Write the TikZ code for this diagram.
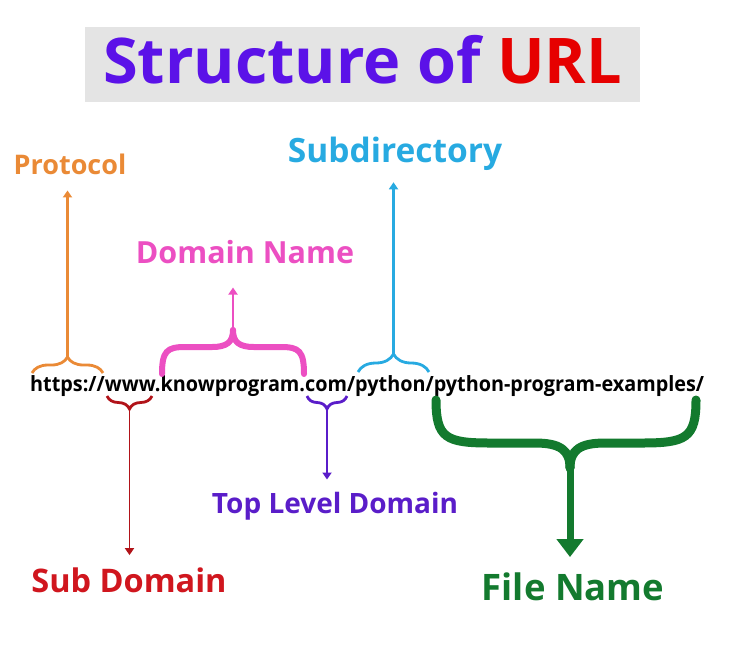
\documentclass[tikz,border=0pt]{standalone}
\usepackage{fontspec}
\setmainfont{Open Sans}
\usepackage{xcolor}
\usetikzlibrary{arrows.meta, decorations.pathreplacing, positioning}
\definecolor{titlepurple}{HTML}{5B12E8}
\definecolor{titlered}{HTML}{E60000}
\definecolor{titlegray}{HTML}{E4E4E4}
\definecolor{protoorange}{HTML}{EA8A36}
\definecolor{domainpink}{HTML}{EC4FC2}
\definecolor{subdircyan}{HTML}{27AAE1}
\definecolor{subred}{HTML}{D0161E}
\definecolor{tldpurple}{HTML}{5A1DC9}
\definecolor{filegreen}{HTML}{137A2E}
\tikzset{
  lbl/.style={inner sep=0pt, anchor=base, font=\bfseries\fontsize{#1}{#1}\selectfont},
  brc/.style={decorate, decoration={brace, amplitude=#1}, line width=2.8pt},
  arr/.style={-{Triangle[length=7pt,width=9pt]}, line width=2.4pt},
  bigbrace/.style={line width=#1, line cap=round},
  filearr/.style={-{Triangle[length=18pt,width=26pt]}, line width=7pt, draw=filegreen},
}

\begin{document}
\begin{tikzpicture}[x=1pt, y=-1pt]
  \useasboundingbox (0,0) rectangle (735,646);

  %% === Title ===
  \node[fill=titlegray, minimum width=555pt, minimum height=75pt,
        text height=45pt, text depth=8pt,
        font=\bfseries\fontsize{63}{63}\selectfont] (title) at (362.5,64.5)
        {\textcolor{titlepurple}{Structure of} \textcolor{titlered}{URL}};

  %% === The URL ===
  \node[inner sep=0pt, anchor=base west, font=\bfseries\fontsize{21}{21}\selectfont] (url)
        at (30,391) {\scalebox{0.944}[1]{https://www.knowprogram.com/python/python-program-examples/}};

  %% === Labels ===
  \node[lbl=27, protoorange]  (proto)  at (70,174)  {Protocol};
  \node[lbl=30.5, domainpink] (domain) at (245,263) {Domain Name};
  \node[lbl=33.5, subdircyan] (subdir) at (395,162) {Subdirectory};
  \node[lbl=32.5, subred]     (sub)    at (129,592) {Sub Domain};
  \node[lbl=28, tldpurple]    (tld)    at (335,513) {Top Level Domain};
  \node[lbl=36.5, filegreen]  (file)   at (573,600) {File Name};

  %% === Brace end points ===
  \coordinate (protoL)  at (32,373);   \coordinate (protoR)  at (103,373);
  \coordinate (domainL) at (162,374);  \coordinate (domainR) at (304,374);
  \coordinate (subdirL) at (358,372);  \coordinate (subdirR) at (429,372);
  \coordinate (subL)    at (107,396);  \coordinate (subR)    at (152,396);
  \coordinate (tldL)    at (307,396);  \coordinate (tldR)    at (347,396);
  \coordinate (fileL)   at (436,400);  \coordinate (fileR)   at (696,400);

  %% brace tips
  \coordinate (protoTip)  at (67.5,357);
  \coordinate (domainTip) at (233,330);
  \coordinate (subdirTip) at (393.5,354);
  \coordinate (subTip)    at (129.5,409);
  \coordinate (tldTip)    at (327,409);
  \coordinate (fileTip)   at (570,468);

  %% === Braces above the URL ===
  \draw[brc=16, protoorange] (protoL) -- (protoR);
  \draw[bigbrace=6pt, domainpink] (domainL) .. controls (162,351) and (167,347) .. (185,347)
    -- (212,347) .. controls (227,347) and (233,342) .. (domainTip);
  \draw[bigbrace=6pt, domainpink] (domainR) .. controls (304,351) and (299,347) .. (281,347)
    -- (254,347) .. controls (239,347) and (233,342) .. (domainTip);
  \draw[brc=18, subdircyan] (subdirL) -- (subdirR);

  %% === Braces below the URL ===
  \draw[brc=13, subred!85!black] (subR) -- (subL);
  \draw[brc=13, tldpurple] (tldR) -- (tldL);
  \draw[bigbrace=9pt, filegreen] (fileL) .. controls (436,438) and (446,443) .. (490,443)
    -- (535,443) .. controls (560,443) and (570,450) .. (fileTip);
  \draw[bigbrace=9pt, filegreen] (fileR) .. controls (696,438) and (686,443) .. (642,443)
    -- (605,443) .. controls (580,443) and (570,450) .. (fileTip);

  %% === Arrows to the labels ===
  \draw[arr, protoorange, shorten >=16pt] (protoTip) -- (protoTip |- proto.south);
  \draw[arr, domainpink, shorten >=24pt] (domainTip) -- (domainTip |- domain.south);
  \draw[arr, subdircyan, shorten >=12pt] (subdirTip) -- (subdirTip |- subdir.south);
  \draw[arr, subred!85!black, line width=1.8pt, shorten >=12pt] (subTip) -- (subTip |- sub.north);
  \draw[arr, tldpurple, shorten >=12pt] (tldTip) -- (tldTip |- tld.north);
  \draw[filearr, shorten >=15pt] (fileTip) -- (fileTip |- file.north);
\end{tikzpicture}
\end{document}
